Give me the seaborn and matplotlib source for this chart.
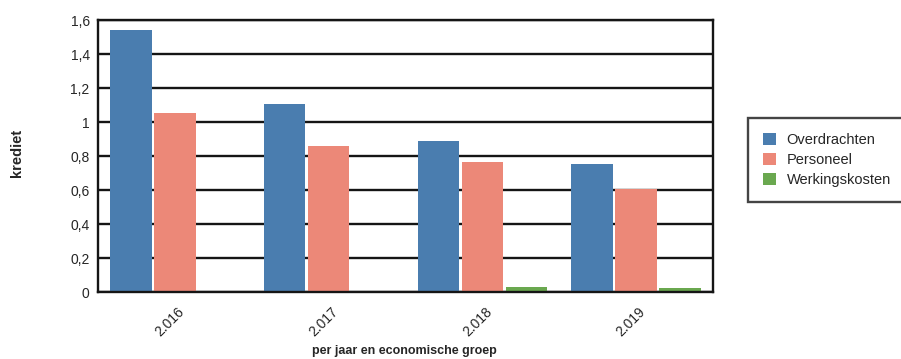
import matplotlib
matplotlib.use("Agg")
import matplotlib.pyplot as plt
import matplotlib.transforms as mtransforms
import seaborn as sns
import pandas as pd
from matplotlib.ticker import FuncFormatter, MultipleLocator

years = ["2.016", "2.017", "2.018", "2.019"]
series = ["Overdrachten", "Personeel", "Werkingskosten"]
overdrachten = [1.54, 1.105, 0.888, 0.753]
personeel = [1.055, 0.858, 0.766, 0.606]
werkingskosten = [0.0, 0.0, 0.032, 0.025]
colors = ["#4a7daf", "#ec8878", "#6aa84f"]

rows = []
for name, vals in zip(series, [overdrachten, personeel, werkingskosten]):
    for y, v in zip(years, vals):
        rows.append({"jaar": y, "groep": name, "krediet": v})
df = pd.DataFrame(rows)

sns.set_style("white")
plt.rcParams['font.family'] = ['Liberation Sans', 'DejaVu Sans']

fig = plt.figure(figsize=(9.01, 3.59), dpi=100)
ax = fig.add_axes([98/901, 1-292/359, (713-98)/901, (292-20)/359])
sns.barplot(data=df, x="jaar", y="krediet", hue="groep", palette=colors,
            width=0.86, gap=0.06, ax=ax, zorder=3, saturation=1, legend=True,
            linewidth=0)
ax.set_ylim(0, 1.6)
ax.yaxis.set_major_locator(MultipleLocator(0.2))
ax.yaxis.set_major_formatter(FuncFormatter(
    lambda v, p: f"{v:.1f}".rstrip("0").rstrip(".").replace(".", ",") if abs(v) > 1e-9 else "0"))
ax.grid(axis="y", color="#151515", linewidth=1.7, zorder=0)
for s in ax.spines.values():
    s.set_color("#151515")
    s.set_linewidth(1.7)
    s.set_zorder(4)
ax.tick_params(axis="y", labelsize=10, length=0, pad=6)
ax.tick_params(axis="x", labelsize=10, length=0, pad=9)
offset = mtransforms.ScaledTranslation(-5/100, 0, fig.dpi_scale_trans)
for lbl in ax.get_xticklabels():
    lbl.set_rotation(45)
    lbl.set_ha("center")
    lbl.set_va("top")
    lbl.set_transform(lbl.get_transform() + offset)
ax.set_xlabel("")
ax.set_ylabel("")
fig.text(404/901, 1-351/359, "per jaar en economische groep", fontsize=9,
         fontweight="bold", ha="center", va="center")
fig.text(17/901, 1-153/359, "krediet", fontsize=10.5, fontweight="bold",
         rotation=90, ha="center", va="center")

h, l = ax.get_legend_handles_labels()
ax.get_legend().remove()
leg = fig.legend(h, l, loc="upper left", bbox_to_anchor=(748/901, 1-118/359),
                 frameon=True, fancybox=False, edgecolor="#151515", fontsize=10.5,
                 handlelength=0.9, handleheight=0.9, borderpad=1.0, labelspacing=0.42,
                 handletextpad=0.75, borderaxespad=0)
leg.get_frame().set_linewidth(1.7)

fig.savefig("out.png", dpi=100)
